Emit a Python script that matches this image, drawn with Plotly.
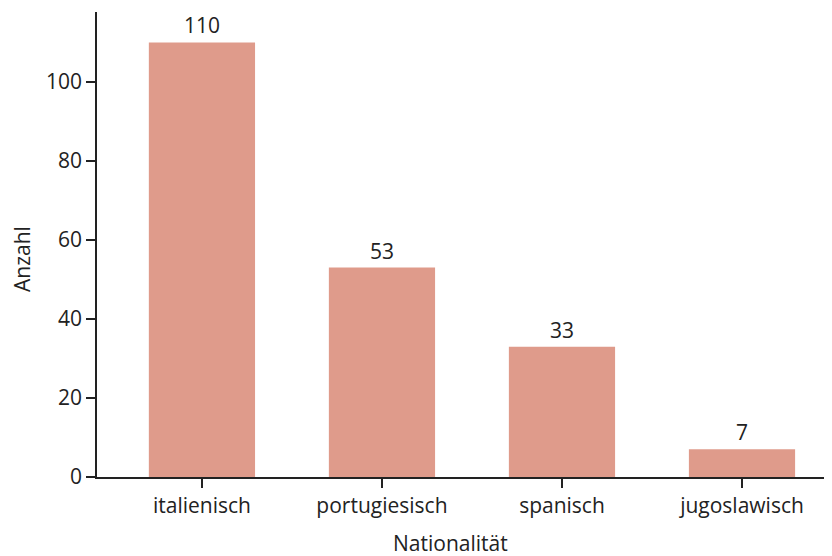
import plotly.graph_objects as go

categories = ["italienisch", "portugiesisch", "spanisch", "jugoslawisch"]
values = [110, 53, 33, 7]
y_ticks = [0, 20, 40, 60, 80, 100]

FONT = "Open Sans"
TXT = "#222222"
FS = 21

fig = go.Figure(go.Bar(
    x=categories, y=values,
    marker=dict(color="#DF9B8B", line=dict(width=0)),
    width=0.59,
    text=[str(v) for v in values],
    textposition="outside",
    textfont=dict(family=FONT, size=FS, color=TXT),
    cliponaxis=False,
))

fig.update_layout(
    width=824, height=548,
    margin=dict(l=89, r=0, t=4, b=79),
    paper_bgcolor="white", plot_bgcolor="white",
    font=dict(family=FONT, size=FS, color=TXT),
    showlegend=False,
    xaxis=dict(
        range=[-0.583, 3.5], showline=True, linecolor="#222222", linewidth=1.5,
        ticks="outside", ticklen=9, tickcolor="#222222", tickwidth=1.5,
        showgrid=False, zeroline=False, automargin=False,
        tickfont=dict(family=FONT, size=FS, color=TXT),
    ),
    yaxis=dict(
        range=[0, 117.7], showline=True, linecolor="#222222", linewidth=1.5,
        ticks="outside", ticklen=9, tickcolor="#222222", tickwidth=1.5,
        tickvals=y_ticks, showgrid=False, zeroline=False, automargin=False,
        tickfont=dict(family=FONT, size=FS, color=TXT),
    ),
    annotations=[
        dict(text="Nationalität", xref="paper", yref="paper", x=0.4816, y=-0.142,
             showarrow=False, xanchor="center", yanchor="middle",
             font=dict(family=FONT, size=FS, color=TXT)),
        dict(text="Anzahl", xref="paper", yref="paper", x=-0.102, y=0.469,
             showarrow=False, xanchor="center", yanchor="middle", textangle=-90,
             font=dict(family=FONT, size=FS, color=TXT)),
    ],
)

fig.write_html("out.html")
